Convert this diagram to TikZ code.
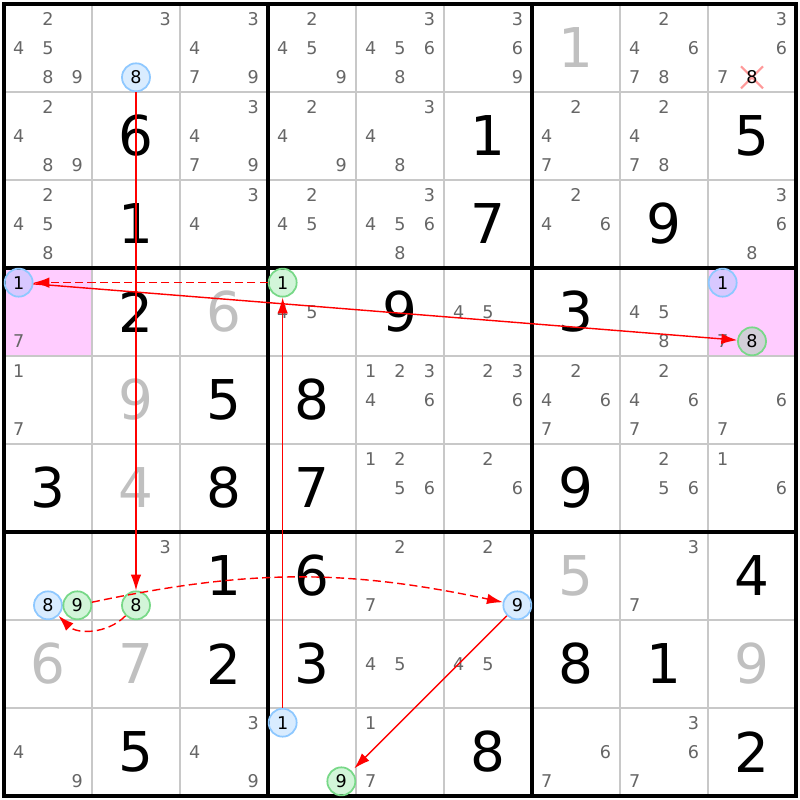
\documentclass[tikz,border=0pt]{standalone}
\usepackage{fontspec}
\setmainfont{DejaVu Sans}
\usetikzlibrary{arrows.meta}
\definecolor{candgray}{HTML}{666666}
\definecolor{solvgray}{HTML}{C0C0C0}
\definecolor{gridgray}{HTML}{C8C8C8}
\definecolor{hlpink}{HTML}{FFCCFF}
\definecolor{onblue}{HTML}{80BFFF}
\definecolor{ongreen}{HTML}{4CD966}
\definecolor{blueedge}{HTML}{8EC8FF}
\definecolor{greenedge}{HTML}{78D888}
\definecolor{crossred}{HTML}{FF9999}
\tikzstyle{cand}=[inner sep=0pt, text=candgray, font=\fontsize{5}{6}\selectfont]
\tikzstyle{bigdigit}=[inner sep=0pt, font=\fontsize{15.6}{18}\selectfont]
\tikzstyle{solved}=[bigdigit, text=solvgray]
\tikzstyle{bluecand}=[circle, draw=blueedge, fill=onblue, fill opacity=0.3, text opacity=1, minimum size=2.8mm, inner sep=0pt, line width=0.5pt, font=\fontsize{5}{6}\selectfont]
\tikzstyle{greencand}=[bluecand, draw=greenedge, fill=ongreen, fill opacity=0.25]
\tikzstyle{stronglink}=[red, line width=0.4pt, -{Latex[length=4.5pt,width=3pt]}]
\tikzstyle{weaklink}=[stronglink, dash pattern=on 2.3pt off 1.2pt]

\begin{document}
\begin{tikzpicture}[x=8.8mm,y=8.8mm]
\useasboundingbox ([shift={(-0.4mm,0.4mm)}]0,0) rectangle ([shift={(0.4mm,-0.4mm)}]9,-9);

\fill[hlpink] (0,-3) rectangle (1,-4);
\fill[hlpink] (8,-3) rectangle (9,-4);
\draw[gridgray, line width=0.3pt] (0,0) grid[step=1] (9,-9);
\draw[line width=0.9pt] (0,0) grid[step=3] (9,-9);
\draw[line width=0.9pt] (0,0) rectangle (9,-9);

\foreach \r/\c/\d in {2/2/6, 2/6/1, 2/9/5, 3/2/1, 3/6/7, 3/8/9, 4/2/2, 4/5/9, 4/7/3,
  5/3/5, 5/4/8, 6/1/3, 6/3/8, 6/4/7, 6/7/9, 7/3/1, 7/4/6, 7/9/4, 8/3/2, 8/4/3,
  8/7/8, 8/8/1, 9/2/5, 9/6/8, 9/9/2}
  \node[bigdigit] (r\r-c\c) at (\c-0.5,-\r+0.5) {\d};
\foreach \r/\c/\d in {1/7/1, 4/3/6, 5/2/9, 6/2/4, 7/7/5, 8/1/6, 8/2/7, 8/9/9}
  \node[solved] (r\r-c\c) at (\c-0.5,-\r+0.5) {\d};

\foreach \r/\c/\l in {1/1/{2,4,5,8,9}, 1/2/{3}, 1/3/{3,4,7,9}, 1/4/{2,4,5,9},
  1/5/{3,4,5,6,8}, 1/6/{3,6,9}, 1/8/{2,4,6,7,8}, 1/9/{3,6,7},
  2/1/{2,4,8,9}, 2/3/{3,4,7,9}, 2/4/{2,4,9}, 2/5/{3,4,8}, 2/7/{2,4,7}, 2/8/{2,4,7,8},
  3/1/{2,4,5,8}, 3/3/{3,4}, 3/4/{2,4,5}, 3/5/{3,4,5,6,8}, 3/7/{2,4,6}, 3/9/{3,6,8},
  4/1/{7}, 4/4/{4,5}, 4/6/{4,5}, 4/8/{4,5,8}, 4/9/{7},
  5/1/{1,7}, 5/5/{1,2,3,4,6}, 5/6/{2,3,6}, 5/7/{2,4,6,7}, 5/8/{2,4,6,7}, 5/9/{6,7},
  6/5/{1,2,5,6}, 6/6/{2,6}, 6/8/{2,5,6}, 6/9/{1,6},
  7/2/{3}, 7/5/{2,7}, 7/6/{2}, 7/8/{3,7}, 8/5/{4,5}, 8/6/{4,5},
  9/1/{4,9}, 9/3/{3,4,9}, 9/5/{1,7}, 9/7/{6,7}, 9/8/{3,6,7}}
  \foreach \d in \l {
    \pgfmathsetmacro\px{\c-1+(mod(\d-1,3)+0.5)/3}
    \pgfmathsetmacro\py{-(\r-1)-(floor((\d-1)/3)+0.5)/3}
    \node[cand] (r\r-c\c-\d) at (\px,\py) {\d};
  }

\draw[crossred, line width=0.6pt] (8.5,-0.8333) +(-0.125,-0.125) -- +(0.125,0.125)
  (8.5,-0.8333) +(-0.125,0.125) -- +(0.125,-0.125);
\node[cand, text=black] (r1-c9-8) at (8.5,-0.8333) {8};

\foreach \r/\c/\d/\s in {1/2/8/bluecand, 4/1/1/bluecand, 4/4/1/greencand, 4/9/1/bluecand,
  4/9/8/greencand, 7/1/8/bluecand, 7/1/9/greencand, 7/2/8/greencand, 7/6/9/bluecand,
  9/4/1/bluecand, 9/4/9/greencand} {
    \pgfmathsetmacro\px{\c-1+(mod(\d-1,3)+0.5)/3}
    \pgfmathsetmacro\py{-(\r-1)-(floor((\d-1)/3)+0.5)/3}
    \node[\s] (r\r-c\c-\d) at (\px,\py) {\d};
  }

\draw[stronglink] (r1-c2-8) -- (r7-c2-8);
\draw[stronglink] (r9-c4-1) -- (r4-c4-1);
\draw[weaklink] (r4-c4-1) -- (r4-c1-1);
\draw[stronglink] (r4-c1-1) -- (r4-c9-8);
\draw[weaklink] (r7-c1-9) to[bend left=12] (r7-c6-9);
\draw[weaklink] (r7-c2-8) to[bend left=45] (r7-c1-8);
\draw[stronglink, shorten >=1pt] (r7-c6-9) -- (r9-c4-9);
\end{tikzpicture}
\end{document}
